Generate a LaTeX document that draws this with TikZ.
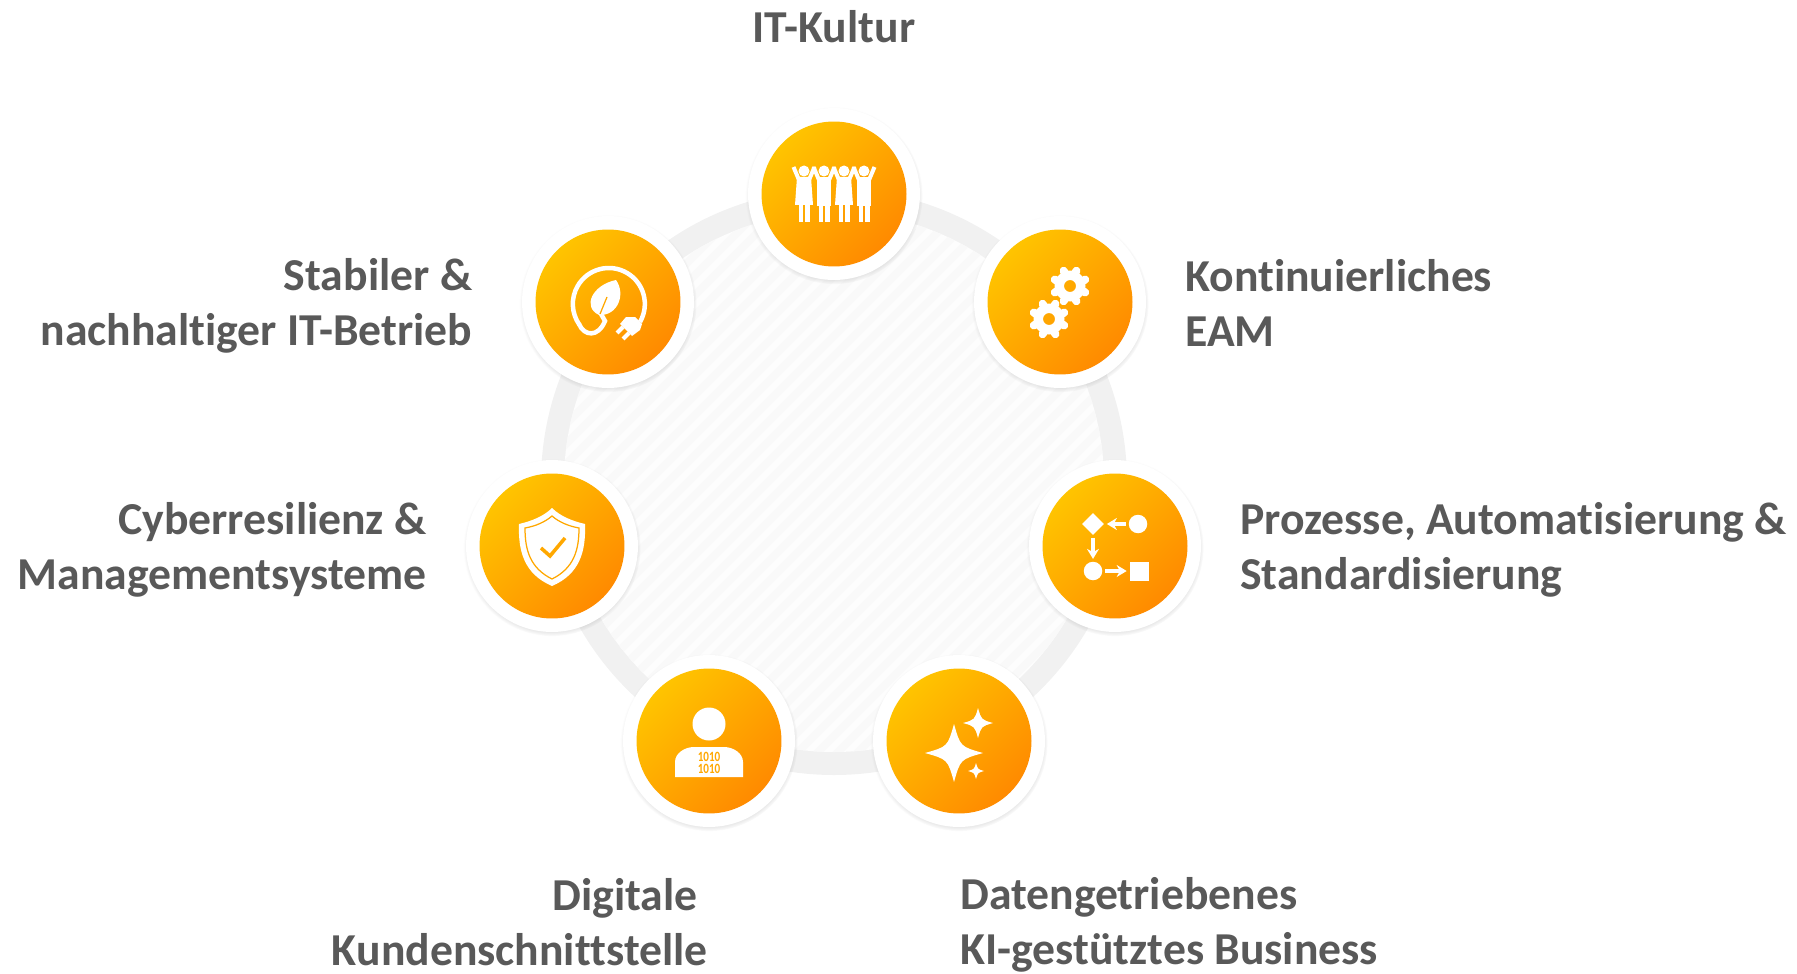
\documentclass[tikz,border=0pt]{standalone}
\usepackage{fontspec}
\usepackage{xcolor}
\setmainfont{Carlito}[Ligatures=NoCommon]
\usetikzlibrary{shadows,shapes.geometric,positioning,arrows.meta}
\definecolor{iconlight}{HTML}{FFC400}
\definecolor{icondark}{HTML}{FF8A00}
\definecolor{iconmid}{HTML}{FFA800}
\definecolor{labelgray}{HTML}{595959}
\definecolor{ringgray}{HTML}{F1F1F1}
\definecolor{stripegray}{HTML}{F9F9F9}
\definecolor{middlegray}{HTML}{FDFDFD}
\tikzset{
  bubble/.style={circle,fill=white,minimum size=3.44cm,inner sep=0pt,
    circular drop shadow={shadow xshift=0cm,shadow yshift=-0.03cm,shadow scale=1.03,opacity=0.5}},
  disc/.style={circle,minimum size=2.9cm,inner sep=0pt,top color=iconlight,bottom color=icondark,shading angle=45},
  topic/.style={text=labelgray,font=\fontsize{26}{31.5}\selectfont\bfseries,inner sep=0pt},
  topicl/.style={topic,align=right,anchor=east},
  topicr/.style={topic,align=left,anchor=west},
  iconline/.style={draw=white,line width=0.09cm},
  flowshape/.style={fill=white,inner sep=0pt},
  flowarrow/.style={white,line width=0.07cm,-{Stealth[length=0.2cm,width=0.24cm]},shorten >=0.05cm,shorten <=0.05cm},
  bits/.style={text=iconmid,font=\fontsize{7}{7}\selectfont\bfseries,inner sep=0pt}
}
\newcommand{\sparkle}[3]{\fill[white] (#1,#2-#3) .. controls (#1+.22*#3,#2-.22*#3) .. (#1+#3,#2)
  .. controls (#1+.22*#3,#2+.22*#3) .. (#1,#2+#3) .. controls (#1-.22*#3,#2+.22*#3) .. (#1-#3,#2)
  .. controls (#1-.22*#3,#2-.22*#3) .. cycle;}
\newcommand{\gearicon}[2]{\begin{scope}[shift={(#1,#2)}]
    \fill[white,even odd rule] (0,0) circle (15.5) (0,0) circle (6);
    \foreach \a in {0,45,...,315} {
      \draw[white,line width=0.16cm,line cap=round] (\a+22.5:13) -- (\a+22.5:16.5);
    }
  \end{scope}}
\begin{document}
\begin{tikzpicture}[x=0.02cm,y=-0.02cm]
  \useasboundingbox (0,0) rectangle (1797,973);
  % ring and striped middle
  \fill[ringgray] (834,482) circle (293);
  \fill[middlegray] (834,482) circle (270);
  \begin{scope}
    \clip (834,482) circle (270);
    \foreach \i in {0,...,40} {
      \draw[stripegray,line width=0.15cm] (730+\i*20,200) -- (130+\i*20,800);
    }
  \end{scope}
  % circles
  \foreach \name/\x/\y in {kultur/834/194, eam/1060/302, prozess/1115/546, daten/959/741,
    kunde/709/741, cyber/552/546, betrieb/608/302} {
    \node[bubble] (\name) at (\x,\y) {};
    \node[disc] (\name disc) at (\x,\y) {};
  }
  % labels
  \node[topic] (kulturtext) at (834,27) {IT-Kultur};
  \node[topicr] (eamtext) at (1185,303) {Kontinuierliches\\EAM};
  \node[topicr] (prozesstext) at (1240,550) {Prozesse, Automatisierung \&\\Standardisierung};
  \node[topicr] (datentext) at (960,925) {Datengetriebenes\\KI-gestütztes Business};
  \node[topicl] (kundetext) at (708,922) {Digitale\hspace*{0.2cm}\\Kundenschnittstelle};
  \node[topicl] (cybertext) at (427,550) {Cyberresilienz \&\\Managementsysteme};
  \node[topicl] (betriebtext) at (472.5,306) {Stabiler \&\\nachhaltiger IT-Betrieb};
  % people
  \begin{scope}[shift={(834,194)}]
    \foreach \x in {-30,-10,10,30} {
      \fill[white] (\x,-23) circle (5.5);
      \draw[white,line width=0.08cm] (\x-5,-14) -- (\x-10.5,-27);
      \draw[white,line width=0.08cm] (\x+5,-14) -- (\x+10.5,-27);
      \fill[white] (\x-5.5,11) rectangle (\x-0.8,28);
      \fill[white] (\x+0.8,11) rectangle (\x+5.5,28);
    }
    \foreach \x in {-30,10} {
      \fill[white] (\x-7,-17) -- (\x+7,-17) -- (\x+9,11) -- (\x-9,11) -- cycle;
    }
    \foreach \x in {-10,30} {
      \fill[white] (\x-7,-17) rectangle (\x+7,12);
    }
  \end{scope}
  % gears
  \begin{scope}[shift={(1060,302)}]
    \gearicon{10}{-16}
    \gearicon{-11}{17}
  \end{scope}
  % flow chart
  \begin{scope}[shift={(1115,546)}]
    \node[flowshape,diamond,minimum size=0.44cm] (flowa) at (-22,-22) {};
    \node[flowshape,circle,minimum size=0.37cm] (flowb) at (23,-22) {};
    \node[flowshape,circle,minimum size=0.37cm] (flowc) at (-22,25) {};
    \node[flowshape,minimum size=0.38cm] (flowd) at (24,25) {};
    \draw[flowarrow] (flowb) -- (flowa);
    \draw[flowarrow] (flowa) -- (flowc);
    \draw[flowarrow] (flowc) -- (flowd);
  \end{scope}
  % sparkles
  \begin{scope}[shift={(959,741)}]
    \sparkle{-5}{12}{29}
    \sparkle{19}{-18}{15}
    \sparkle{17}{30}{8}
  \end{scope}
  % person
  \begin{scope}[shift={(709,741)}]
    \fill[white] (0,-17) circle (16.5);
    \fill[white] (-34,36) -- (-34,21) .. controls (-34,12) and (-24,6) .. (-15,6) -- (15,6)
      .. controls (24,6) and (34,12) .. (34,21) -- (34,36) -- cycle;
    \node[bits] (bitone) at (0,15.5) {\scalebox{.9}[1.15]{1010}};
    \node[bits] (bittwo) at (0,28) {\scalebox{.9}[1.15]{1010}};
  \end{scope}
  % shield
  \begin{scope}[shift={(552,546)}]
    \fill[white] (0,-38) .. controls (8,-30) and (20,-25) .. (33,-22) .. controls (34,5) and (28,28) .. (0,40)
      .. controls (-28,28) and (-34,5) .. (-33,-22) .. controls (-20,-25) and (-8,-30) .. cycle;
    \draw[iconmid,line width=0.025cm] (0,-30) .. controls (7,-24) and (16,-20) .. (27,-18) .. controls (27,4) and (22,22) .. (0,33)
      .. controls (-22,22) and (-27,4) .. (-27,-18) .. controls (-16,-20) and (-7,-24) .. cycle;
    \draw[iconmid,line width=0.07cm] (-11,2) -- (-2,10) -- (13,-8);
  \end{scope}
  % leaf and plug
  \begin{scope}[shift={(608,302)}]
    \draw[iconline] (32,20) arc[start angle=30,end angle=-215,radius=36];
    \draw[iconline] (-29,22) .. controls (-24,34) and (-10,36) .. (-3,19) -- (-7,12);
    \fill[white] (-9,13) .. controls (-26,5) and (-16,-17) .. (8,-22) .. controls (18,-8) and (10,14) .. (-9,13);
    \draw[iconmid,line width=0.025cm] (-8,12) -- (-1,-5);
    \fill[white] (12,22) -- (18,15) -- (27,15) -- (34,22) -- (32,28) -- (24,34) -- cycle;
    \draw[white,line width=0.08cm] (15,25) -- (9,31);
    \draw[white,line width=0.08cm] (21,31) -- (15,37);
  \end{scope}
\end{tikzpicture}
\end{document}
